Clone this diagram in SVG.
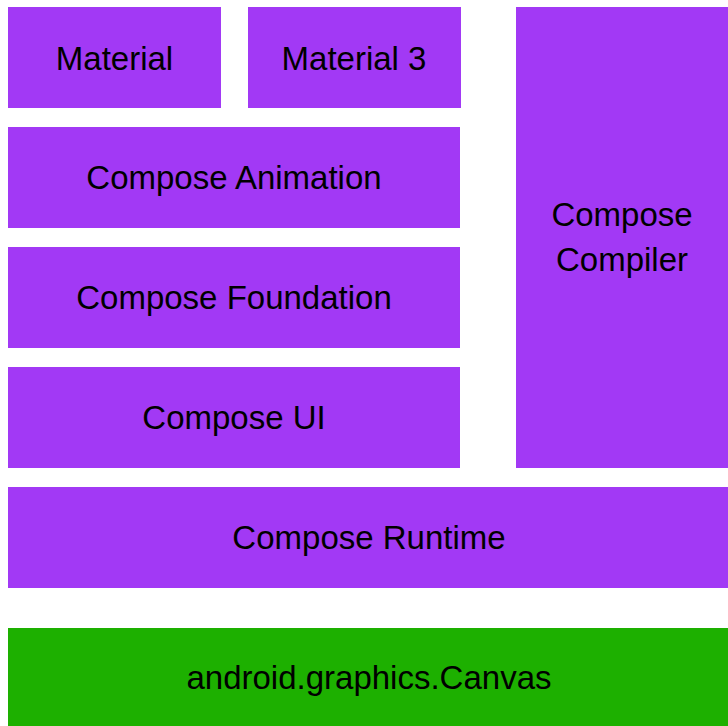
<svg xmlns="http://www.w3.org/2000/svg" width="728" height="726" viewBox="0 0 728 726">
<style>
.p{fill:#A239F5}
.g{fill:#1DB000}
text{font-family:"Liberation Sans",Arial,sans-serif;font-size:33px;fill:#000;text-anchor:middle}
</style>
<rect width="728" height="726" fill="#fff"/>
<g id="material"><rect class="p" x="8" y="7" width="213" height="101"/><text x="114.5" y="70">Material</text></g>
<g id="material3"><rect class="p" x="248" y="7" width="213" height="101"/><text x="354" y="70">Material 3</text></g>
<g id="compiler"><rect class="p" x="516" y="7" width="212" height="461"/><text x="622" y="226">Compose</text><text x="622" y="271">Compiler</text></g>
<g id="animation"><rect class="p" x="8" y="127" width="452" height="101"/><text x="234" y="189">Compose Animation</text></g>
<g id="foundation"><rect class="p" x="8" y="247" width="452" height="101"/><text x="234" y="309">Compose Foundation</text></g>
<g id="ui"><rect class="p" x="8" y="367" width="452" height="101"/><text x="234" y="429">Compose UI</text></g>
<g id="runtime"><rect class="p" x="8" y="487" width="720" height="101"/><text x="369" y="549">Compose Runtime</text></g>
<g id="canvas"><rect class="g" x="8" y="628" width="720" height="98"/><text x="369" y="689">android.graphics.Canvas</text></g>
<g id="connectors"/>
</svg>
